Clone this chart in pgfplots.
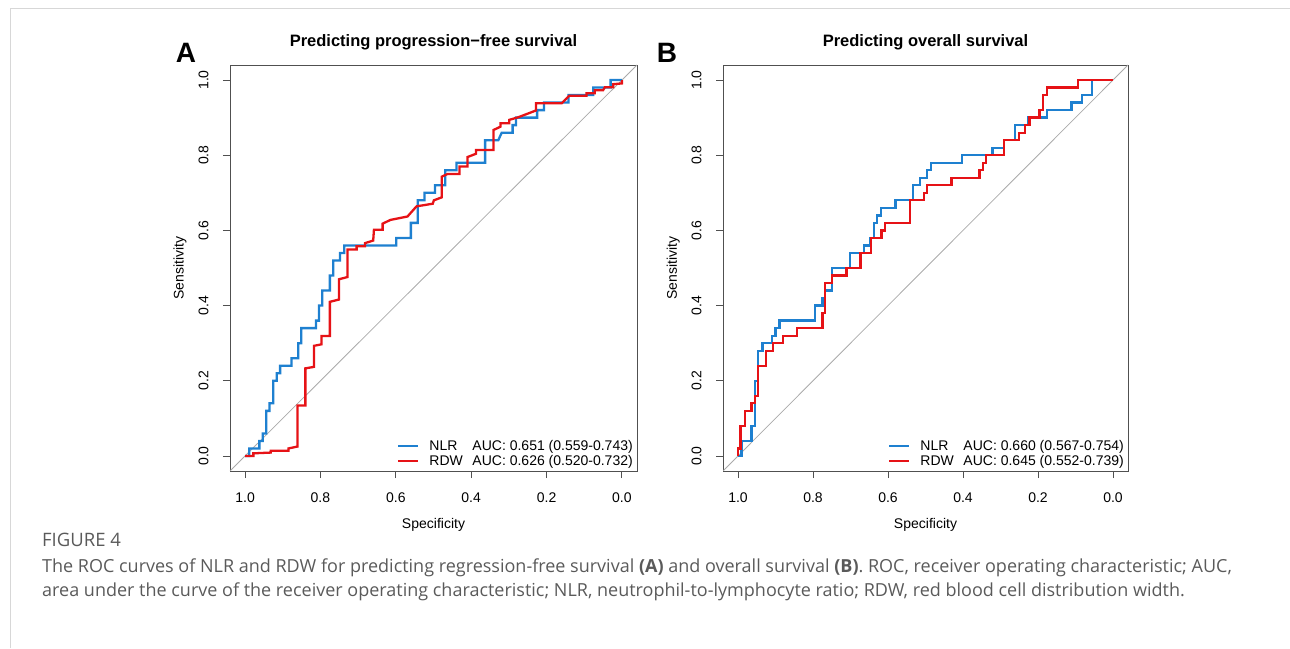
\documentclass[border=0pt]{standalone}
\usepackage{pgfplots}
\pgfplotsset{compat=1.18}
\usepackage{fontspec}
\setmainfont{Liberation Sans}
\newfontfamily\capfont{Open Sans}

\definecolor{nlrblue}{RGB}{30,128,208}
\definecolor{rdwred}{RGB}{230,18,22}
\definecolor{boxgray}{RGB}{80,80,80}
\definecolor{diaggray}{RGB}{170,170,170}
\definecolor{capgray}{RGB}{90,90,90}
\definecolor{framegray}{RGB}{215,215,215}

\pgfplotsset{
  rocaxis/.style={
    scale only axis, height=406pt,
    xmin=-0.04, xmax=1.04, ymin=-0.04, ymax=1.04, x dir=reverse,
    axis line style={boxgray, line width=0.9pt},
    xtick={0,0.2,0.4,0.6,0.8,1}, ytick={0,0.2,0.4,0.6,0.8,1},
    xtick pos=left, ytick pos=left, tick align=outside,
    major tick length=7pt, tick style={boxgray, line width=0.9pt},
    /pgf/number format/.cd, fixed, fixed zerofill, precision=1, assume math mode=true, /pgfplots/.cd,
    ticklabel style={font=\fontsize{14}{16}\selectfont},
    yticklabel style={rotate=90, anchor=south},
    yticklabel shift=11pt, xticklabel shift=11pt,
    label style={font=\fontsize{14}{16}\selectfont},
    xlabel={Specificity}, ylabel={Sensitivity},
    xlabel style={at={(axis description cs:0.5,0)}, anchor=center, yshift=-54pt},
    ylabel style={at={(axis description cs:-0.123,0.5)}, anchor=center},
    title style={font=\bfseries\fontsize{16.5}{18}\selectfont, at={(axis description cs:0.5,1)}, anchor=center, yshift=17pt},
    legend style={draw=none, fill=none, font=\fontsize{14}{15}\selectfont,
      at={(axis description cs:1,0)}, anchor=south east, inner sep=2pt, row sep=-1pt,
      /tikz/every odd column/.append style={column sep=8pt}},
    legend cell align=left,
    legend image code/.code={\draw[#1] (0pt,0pt) -- (20pt,0pt);},
    clip=true,
  },
  nlr/.style={nlrblue, line width=2.3pt, no marks, line join=miter},
  rdw/.style={rdwred, line width=2.3pt, no marks, line join=miter},
  diag/.style={diaggray, line width=0.8pt, no marks, forget plot},
}

\begin{document}
\begin{tikzpicture}
\useasboundingbox (0,0) rectangle (1290pt,648pt);
\draw[framegray, line width=0.8pt] (10pt,0pt) -- (10pt,640pt) -- (1290pt,640pt);

% Panel A: progression-free survival
\begin{axis}[rocaxis, width=407pt, at={(230pt,177pt)}, anchor=south west,
    title={Predicting progression−free survival}]
  \addplot[diag] coordinates {(1.04,-0.04) (-0.04,1.04)};
  \addplot[nlr] coordinates {
    (1.000,0) (0.989,0) (0.989,0.02) (0.962,0.02) (0.962,0.04) (0.953,0.04)
    (0.953,0.06) (0.944,0.06) (0.944,0.12) (0.935,0.12) (0.935,0.14) (0.925,0.14)
    (0.925,0.20) (0.916,0.20) (0.916,0.22) (0.907,0.22) (0.907,0.24) (0.877,0.24)
    (0.877,0.26) (0.859,0.26) (0.859,0.30) (0.851,0.30) (0.851,0.34) (0.812,0.34)
    (0.812,0.36) (0.804,0.36) (0.804,0.40) (0.795,0.40) (0.795,0.44) (0.775,0.44)
    (0.775,0.48) (0.766,0.48) (0.766,0.52) (0.748,0.52) (0.748,0.54) (0.737,0.54)
    (0.737,0.56) (0.599,0.56) (0.599,0.58) (0.560,0.58) (0.560,0.62) (0.542,0.62)
    (0.542,0.68) (0.524,0.68) (0.524,0.70) (0.496,0.70) (0.496,0.72) (0.469,0.72)
    (0.469,0.76) (0.439,0.76) (0.439,0.78) (0.363,0.78) (0.363,0.84) (0.328,0.84)
    (0.319,0.86) (0.290,0.86) (0.290,0.88) (0.281,0.88) (0.281,0.90) (0.225,0.90)
    (0.225,0.92) (0.207,0.92) (0.207,0.94) (0.142,0.94) (0.142,0.96) (0.076,0.96)
    (0.076,0.98) (0.030,0.98) (0.030,1.00) (0.000,1.00)
  };
  \addlegendentry{\makebox[43pt][l]{NLR}AUC: 0.651 (0.559-0.743)}
  \addplot[rdw] coordinates {
    (1.000,0) (0.978,0) (0.978,0.007) (0.932,0.009) (0.932,0.014) (0.885,0.014)
    (0.885,0.020) (0.861,0.025) (0.861,0.134) (0.840,0.134) (0.840,0.233) (0.817,0.237)
    (0.817,0.293) (0.797,0.297) (0.797,0.319) (0.775,0.319) (0.775,0.410) (0.751,0.416)
    (0.751,0.470) (0.728,0.476) (0.728,0.549) (0.704,0.549) (0.704,0.558) (0.682,0.558)
    (0.682,0.566) (0.660,0.573) (0.658,0.602) (0.635,0.602) (0.635,0.618) (0.614,0.628)
    (0.569,0.637) (0.545,0.664) (0.502,0.671) (0.499,0.680) (0.478,0.688) (0.478,0.743)
    (0.463,0.750) (0.431,0.750) (0.431,0.770) (0.410,0.770) (0.410,0.795) (0.387,0.804)
    (0.387,0.814) (0.341,0.814) (0.341,0.867) (0.322,0.876) (0.322,0.885) (0.299,0.885)
    (0.299,0.894) (0.275,0.901) (0.228,0.919) (0.228,0.938) (0.160,0.938) (0.140,0.958)
    (0.094,0.958) (0.094,0.965) (0.072,0.965) (0.072,0.973) (0.050,0.973) (0.045,0.981)
    (0.023,0.981) (0.023,0.989) (0.000,0.991) (0.000,1.000)
  };
  \addlegendentry{\makebox[43pt][l]{RDW}AUC: 0.626 (0.520-0.732)}
\end{axis}

% Panel B: overall survival
\begin{axis}[rocaxis, width=405pt, at={(723pt,177pt)}, anchor=south west,
    title={Predicting overall survival}]
  \addplot[diag] coordinates {(1.04,-0.04) (-0.04,1.04)};
  \addplot[nlr] coordinates {
    (1.000,0) (0.991,0) (0.991,0.04) (0.964,0.04) (0.964,0.08) (0.955,0.08)
    (0.955,0.20) (0.946,0.20) (0.946,0.28) (0.935,0.28) (0.935,0.30) (0.909,0.30)
    (0.909,0.32) (0.900,0.32) (0.900,0.34) (0.889,0.34) (0.889,0.36) (0.795,0.36)
    (0.795,0.40) (0.775,0.40) (0.775,0.42) (0.768,0.42) (0.768,0.44) (0.749,0.44)
    (0.749,0.50) (0.702,0.50) (0.702,0.54) (0.664,0.54) (0.664,0.56) (0.647,0.56)
    (0.647,0.58) (0.638,0.58) (0.638,0.62) (0.629,0.62) (0.629,0.64) (0.618,0.64)
    (0.618,0.66) (0.580,0.66) (0.580,0.68) (0.534,0.68) (0.534,0.72) (0.515,0.72)
    (0.515,0.74) (0.496,0.74) (0.496,0.76) (0.485,0.76) (0.485,0.78) (0.402,0.78)
    (0.402,0.80) (0.321,0.80) (0.321,0.82) (0.291,0.82) (0.291,0.84) (0.262,0.84)
    (0.262,0.88) (0.225,0.88) (0.225,0.90) (0.176,0.90) (0.176,0.92) (0.111,0.92)
    (0.111,0.94) (0.083,0.94) (0.083,0.96) (0.056,0.96) (0.056,1.00) (0.000,1.00)
  };
  \addlegendentry{\makebox[43pt][l]{NLR}AUC: 0.660 (0.567-0.754)}
  \addplot[rdw] coordinates {
    (1.000,0) (1.000,0.02) (0.993,0.02) (0.993,0.08) (0.982,0.08) (0.982,0.12)
    (0.964,0.12) (0.964,0.14) (0.955,0.14) (0.955,0.16) (0.946,0.16) (0.946,0.24)
    (0.925,0.24) (0.925,0.28) (0.907,0.28) (0.907,0.30) (0.880,0.30) (0.880,0.32)
    (0.842,0.32) (0.842,0.34) (0.775,0.34) (0.775,0.38) (0.768,0.38) (0.768,0.46)
    (0.749,0.46) (0.749,0.48) (0.711,0.48) (0.711,0.50) (0.673,0.50) (0.673,0.54)
    (0.645,0.54) (0.645,0.58) (0.617,0.58) (0.617,0.60) (0.608,0.60) (0.608,0.62)
    (0.542,0.62) (0.542,0.68) (0.504,0.68) (0.504,0.70) (0.496,0.70) (0.496,0.72)
    (0.431,0.72) (0.431,0.74) (0.356,0.74) (0.356,0.76) (0.347,0.76) (0.347,0.78)
    (0.338,0.78) (0.338,0.80) (0.291,0.80) (0.291,0.84) (0.251,0.84) (0.251,0.86)
    (0.234,0.86) (0.234,0.88) (0.223,0.88) (0.223,0.90) (0.196,0.90) (0.196,0.92)
    (0.187,0.92) (0.187,0.96) (0.176,0.96) (0.176,0.98) (0.093,0.98) (0.093,1.00)
    (0.000,1.00)
  };
  \addlegendentry{\makebox[43pt][l]{RDW}AUC: 0.645 (0.552-0.739)}
\end{axis}

\node[font=\bfseries\fontsize{28}{30}\selectfont] at (186pt,595pt) {A};
\node[font=\bfseries\fontsize{28}{30}\selectfont] at (667pt,595pt) {B};

\node[anchor=base west, inner sep=0pt, text=capgray, font=\capfont\fontsize{18.5}{20}\selectfont] at (42pt,102pt) {FIGURE 4};
\node[anchor=base west, inner sep=0pt, text=capgray, font=\capfont\fontsize{18}{20}\selectfont] at (42pt,76pt)
  {The ROC curves of NLR and RDW for predicting regression-free survival \textbf{(A)} and overall survival \textbf{(B)}. ROC, receiver operating characteristic; AUC,};
\node[anchor=base west, inner sep=0pt, text=capgray, font=\capfont\fontsize{18}{20}\selectfont] at (42pt,52pt)
  {area under the curve of the receiver operating characteristic; NLR, neutrophil-to-lymphocyte ratio; RDW, red blood cell distribution width.};
\end{tikzpicture}
\end{document}
